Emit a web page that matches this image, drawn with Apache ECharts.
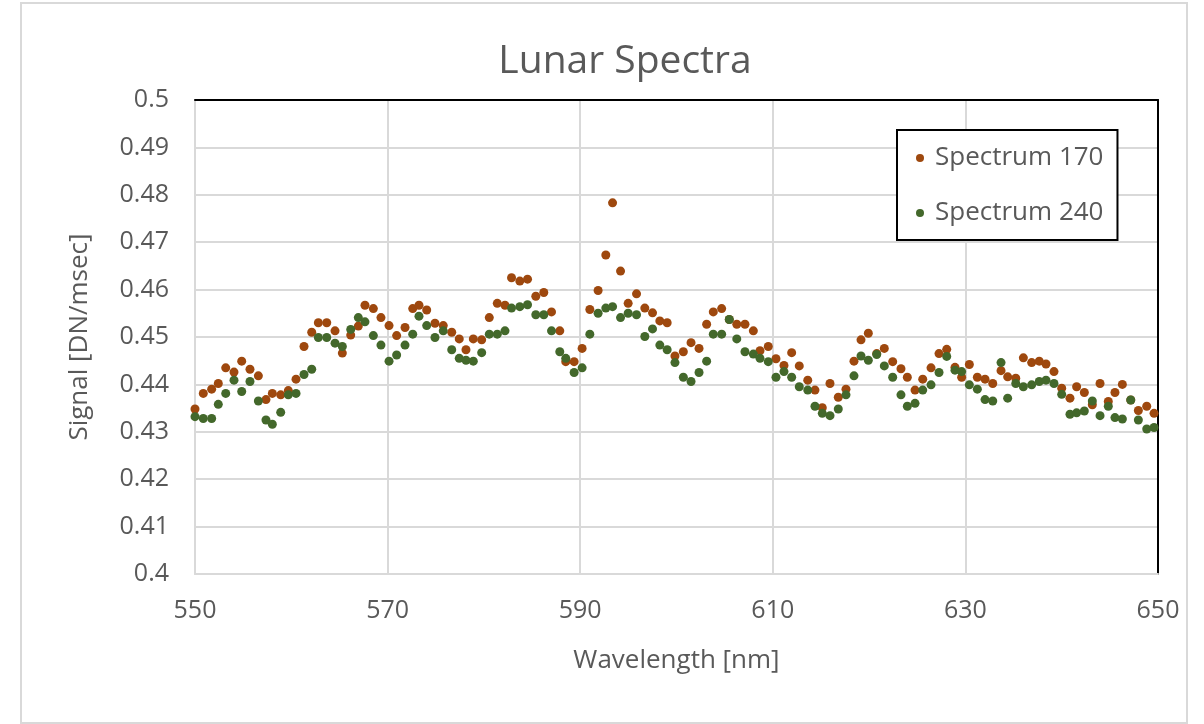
<!DOCTYPE html>
<html>
<head>
<meta charset="utf-8">
<title>Lunar Spectra</title>
<script src="https://cdn.jsdelivr.net/npm/echarts@6/dist/echarts.min.js"></script>
<style>
  html, body { margin: 0; padding: 0; background: #fff; }
  #frame { position: absolute; left: 20px; top: 2px; width: 1164px; height: 718px; border: 2px solid #d9d9d9; }
  #chart { position: absolute; left: 0; top: 0; width: 1204px; height: 724px; }
</style>
</head>
<body>
<div id="frame"></div>
<div id="chart"></div>
<script>
// wavelength of each sample, nm
const wavelengths = [
  550.0, 550.86, 551.73, 552.42, 553.19, 554.05, 554.85, 555.71, 556.58, 557.37, 558.03, 558.9, 559.69, 560.49, 561.32, 562.12, 562.81, 563.68, 564.54, 565.3, 566.17,
  566.96, 567.65, 568.52, 569.31, 570.15, 570.94, 571.81, 572.61, 573.26, 574.06, 574.92, 575.78, 576.66, 577.44, 578.14, 578.9, 579.77, 580.56, 581.39, 582.19,
  582.87, 583.73, 584.53, 585.39, 586.22, 587.02, 587.88, 588.5, 589.37, 590.2, 591.0, 591.86, 592.66, 593.36, 594.19, 594.98, 595.85, 596.71, 597.51, 598.27, 599.03,
  599.84, 600.71, 601.51, 602.34, 603.13, 603.82, 604.69, 605.48, 606.26, 607.11, 607.98, 608.67, 609.53, 610.33, 611.16, 611.96, 612.75, 613.63, 614.38, 615.14, 615.94,
  616.8, 617.6, 618.43, 619.16, 619.92, 620.79, 621.58, 622.45, 623.31, 623.97, 624.77, 625.57, 626.43, 627.26, 628.06, 628.92, 629.61, 630.41, 631.24, 632.04, 632.84,
  633.7, 634.39, 635.23, 636.02, 636.88, 637.67, 638.37, 639.2, 640.0, 640.86, 641.55, 642.35, 643.18, 643.98, 644.84, 645.53, 646.3, 647.17, 647.96, 648.83, 649.59
]

// Signal [DN/msec]
const spectrum170 = [
  0.4348, 0.4381, 0.4390, 0.4402, 0.4435, 0.4426, 0.4449, 0.4432, 0.4418, 0.4368, 0.4381, 0.4378, 0.4387, 0.4411, 0.4480, 0.4510, 0.4530, 0.4530, 0.4513, 0.4466, 0.4504,
  0.4523, 0.4567, 0.4560, 0.4541, 0.4524, 0.4503, 0.4520, 0.4560, 0.4567, 0.4557, 0.4529, 0.4524, 0.4510, 0.4496, 0.4473, 0.4496, 0.4494, 0.4541, 0.4571, 0.4567,
  0.4625, 0.4618, 0.4622, 0.4586, 0.4594, 0.4553, 0.4513, 0.4448, 0.4448, 0.4476, 0.4558, 0.4598, 0.4673, 0.4783, 0.4639, 0.4571, 0.4591, 0.4561, 0.4551, 0.4534, 0.4530,
  0.4460, 0.4469, 0.4488, 0.4476, 0.4527, 0.4553, 0.4560, 0.4537, 0.4527, 0.4527, 0.4513, 0.4471, 0.4480, 0.4454, 0.4440, 0.4467, 0.4439, 0.4409, 0.4388, 0.4351, 0.4402,
  0.4373, 0.4390, 0.4449, 0.4494, 0.4508, 0.4465, 0.4476, 0.4448, 0.4433, 0.4415, 0.4388, 0.4411, 0.4435, 0.4465, 0.4474, 0.4436, 0.4415, 0.4442, 0.4415, 0.4411, 0.4402,
  0.4429, 0.4416, 0.4413, 0.4456, 0.4446, 0.4449, 0.4443, 0.4427, 0.4392, 0.4371, 0.4395, 0.4383, 0.4357, 0.4402, 0.4364, 0.4383, 0.4400, 0.4367, 0.4345, 0.4354, 0.4339
]

const spectrum240 = [
  0.4332, 0.4328, 0.4328, 0.4358, 0.4381, 0.4409, 0.4385, 0.4406, 0.4365, 0.4325, 0.4316, 0.4341, 0.4378, 0.4381, 0.4421, 0.4432, 0.4499, 0.4499, 0.4487, 0.4480, 0.4516,
  0.4541, 0.4532, 0.4503, 0.4483, 0.4449, 0.4462, 0.4483, 0.4506, 0.4544, 0.4524, 0.4499, 0.4513, 0.4473, 0.4455, 0.4451, 0.4449, 0.4467, 0.4506, 0.4506, 0.4513,
  0.4561, 0.4564, 0.4568, 0.4547, 0.4547, 0.4513, 0.4469, 0.4455, 0.4425, 0.4435, 0.4506, 0.4550, 0.4561, 0.4564, 0.4541, 0.4550, 0.4547, 0.4501, 0.4517, 0.4483, 0.4473,
  0.4446, 0.4415, 0.4406, 0.4425, 0.4449, 0.4506, 0.4506, 0.4537, 0.4496, 0.4469, 0.4464, 0.4455, 0.4448, 0.4415, 0.4427, 0.4415, 0.4395, 0.4388, 0.4354, 0.4339, 0.4334,
  0.4348, 0.4378, 0.4418, 0.4460, 0.4451, 0.4463, 0.4439, 0.4415, 0.4378, 0.4354, 0.4360, 0.4388, 0.4399, 0.4425, 0.4459, 0.4430, 0.4427, 0.4399, 0.4390, 0.4368, 0.4365,
  0.4446, 0.4371, 0.4402, 0.4395, 0.4399, 0.4406, 0.4409, 0.4402, 0.4379, 0.4337, 0.4340, 0.4344, 0.4365, 0.4334, 0.4354, 0.4330, 0.4327, 0.4367, 0.4325, 0.4306, 0.4309
]

const seriesNames = ['Spectrum 170', 'Spectrum 240']
const seriesColors = ['#9E480E', '#43682B']

const textColor = '#595959'
const gridColor = '#d9d9d9'
const fontFamily = '"Open Sans", "Noto Sans", sans-serif'

const chart = echarts.init(document.getElementById('chart'))

function toPoints(values) {
  return wavelengths.map((w, i) => [w, values[i]])
}

function getSeries() {
  return [spectrum170, spectrum240].map((values, i) => ({
    name: seriesNames[i],
    type: 'scatter',
    symbolSize: 9,
    itemStyle: { color: seriesColors[i], opacity: 1 },
    data: toPoints(values)
  }))
}

const option = {
  animation: false,
  textStyle: { fontFamily: fontFamily },
  title: {
    text: 'Lunar Spectra',
    left: 620,
    textAlign: 'center',
    top: 37,
    textStyle: { color: textColor, fontSize: 39, fontWeight: 'normal', fontFamily: fontFamily }
  },
  legend: {
    orient: 'vertical',
    left: 897,
    top: 130,
    padding: [15, 14, 14, 19],
    itemGap: 29,
    itemWidth: 8,
    itemHeight: 8,
    icon: 'circle',
    borderColor: '#000',
    borderWidth: 2,
    backgroundColor: '#fff',
    textStyle: { color: textColor, fontSize: 26, padding: [0, 0, 0, 6], fontFamily: fontFamily },
    data: seriesNames
  },
  // 绘图区位置
  grid: {
    left: 195,
    right: 46,
    top: 100,
    bottom: 150
  },
  xAxis: [
    {
      type: 'value',
      min: 550,
      max: 650,
      interval: 20,
      name: 'Wavelength [nm]',
      nameLocation: 'middle',
      nameGap: 74,
      nameTextStyle: { color: textColor, fontSize: 26 },
      axisLine: { lineStyle: { color: gridColor, width: 2 } },
      axisTick: { show: false },
      axisLabel: { color: textColor, fontSize: 25, margin: 24 },
      splitLine: { lineStyle: { color: gridColor, width: 2 } }
    },
    {
      // top border (black)
      type: 'value',
      position: 'top',
      min: 550,
      max: 650,
      axisLine: { onZero: false, lineStyle: { color: '#000', width: 2 } },
      axisTick: { show: false },
      axisLabel: { show: false },
      splitLine: { show: false }
    }
  ],
  yAxis: [
    {
      type: 'value',
      min: 0.4,
      max: 0.5,
      interval: 0.01,
      name: 'Signal [DN/msec]',
      nameLocation: 'middle',
      nameGap: 102,
      nameTextStyle: { color: textColor, fontSize: 26 },
      axisLine: { show: true, lineStyle: { color: gridColor, width: 2 } },
      axisTick: { show: false },
      axisLabel: {
        color: textColor,
        fontSize: 25,
        margin: 26,
        formatter: (v) => String(+v.toFixed(2))
      },
      splitLine: { lineStyle: { color: gridColor, width: 2 } }
    },
    {
      // right border (black)
      type: 'value',
      position: 'right',
      min: 0.4,
      max: 0.5,
      axisLine: { show: true, onZero: false, lineStyle: { color: '#000', width: 2 } },
      axisTick: { show: false },
      axisLabel: { show: false },
      splitLine: { show: false }
    }
  ],
  series: getSeries()
}

chart.setOption(option)
</script>
</body>
</html>
